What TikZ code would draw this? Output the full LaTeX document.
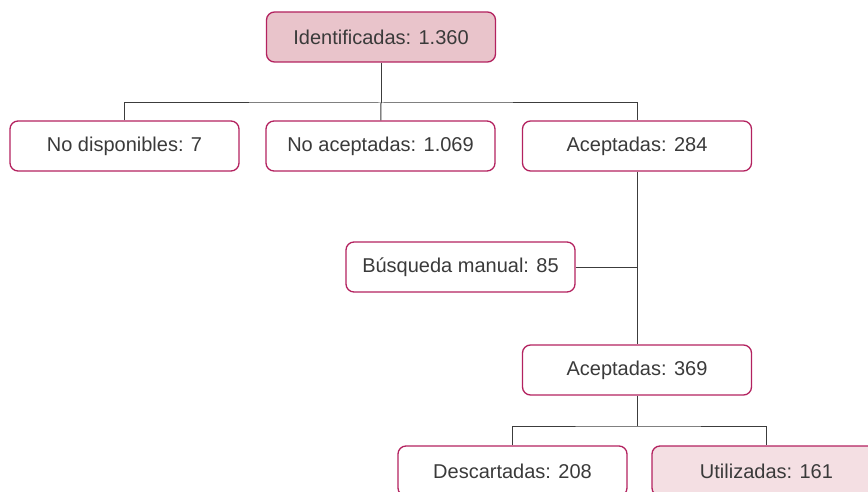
\documentclass[tikz,border=0pt]{standalone}
\usepackage{fontspec}
\setmainfont{Liberation Sans}
\usepackage{tikz}

\definecolor{edgered}{HTML}{B3225F}
\definecolor{fillpink}{HTML}{E9C4CB}
\definecolor{fillpale}{HTML}{F4DFE3}
\definecolor{textgray}{HTML}{3A3A3A}
\definecolor{linegray}{HTML}{3C3C3C}

\begin{document}
\begin{tikzpicture}[x=1pt,y=1pt,
    every node/.style={rectangle,draw=edgered,line width=1.3pt,rounded corners=8pt,
      minimum width=229pt,minimum height=50pt,inner sep=0pt,
      text=textgray,font=\fontsize{20}{24}\selectfont},
    conn/.style={draw=linegray,line width=1pt},
    hot/.style={fill=fillpink},
    kept/.style={fill=fillpale}]
  \clip (0,0) rectangle (868,491);
  \useasboundingbox (0,0) rectangle (868,491);

  \node[hot] (ident) at (381,454) {Identificadas: 1.360};

  \node (nodisp) at (124.5,345) {No disponibles: 7};
  \node (noacep) at (380.5,345) {No aceptadas: 1.069};
  \node (acep1) at (637,345) {Aceptadas: 284};

  \node (busq) at (460.5,224) {Búsqueda manual: 85};

  \node (acep2) at (637,121) {Aceptadas: 369};

  \node (desc) at (512.5,20) {Descartadas: 208};
  \node[kept] (util) at (766.5,20) {Utilizadas: 161};

  \coordinate (split1) at (381,388);
  \coordinate (split2) at (637,65);

  \draw[conn] (ident) -- (split1);
  \draw[conn] (nodisp.north) |- (split1) -| (acep1.north);
  \draw[conn] (split1) -- (noacep);
  \draw[conn] (acep1) -- (acep2);
  \draw[conn] (busq.east) -- (acep1.south |- busq.east);
  \draw[conn] (acep2) -- (split2);
  \draw[conn] (desc.north) |- (split2) -| (util.north);
\end{tikzpicture}
\end{document}
